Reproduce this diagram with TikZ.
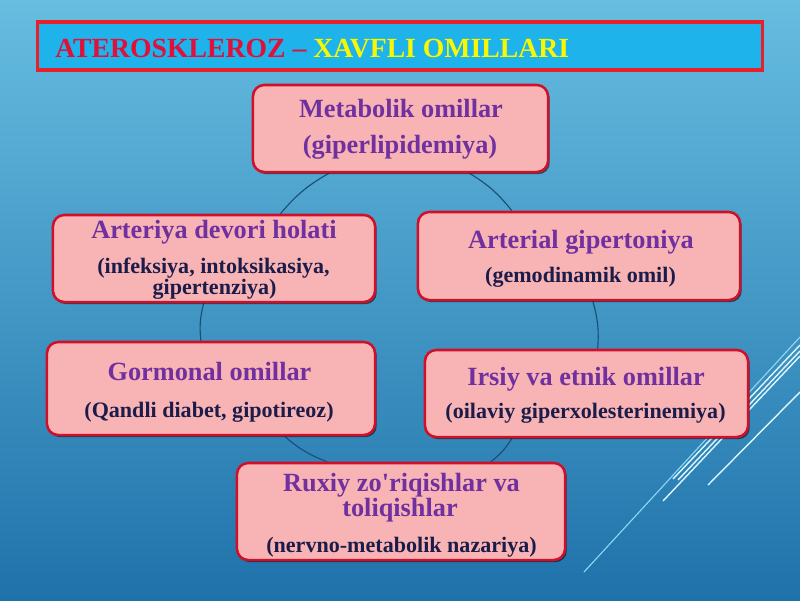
\documentclass[tikz,border=0pt]{standalone}
\usepackage{fontspec}
\setmainfont{Liberation Serif}[Ligatures=TeXOff]
\usetikzlibrary{shadows}
\definecolor{bgtop}{HTML}{66BDE0}
\definecolor{bgbot}{HTML}{1F72AA}
\definecolor{titlefill}{HTML}{1EB3EA}
\definecolor{titlered}{HTML}{E8202A}
\definecolor{titletext}{HTML}{E0103A}
\definecolor{titleyel}{HTML}{F8F800}
\definecolor{boxfill}{HTML}{F8B4B4}
\definecolor{boxline}{HTML}{D0102A}
\definecolor{purp}{HTML}{7030A0}
\definecolor{navy}{HTML}{1C1C4A}
\definecolor{connc}{HTML}{1A4E74}
\definecolor{streak}{HTML}{DDF6FF}
\definecolor{streakb}{HTML}{8AD8F2}
\pgfdeclarelayer{bg}\pgfdeclarelayer{conn}\pgfsetlayers{bg,conn,main}
\tikzset{
 box/.style={draw=boxline, line width=1.8pt, fill=boxfill, rounded corners=8pt, inner sep=0pt,
   drop shadow={shadow xshift=1.2pt, shadow yshift=-1.5pt, opacity=0.55, fill=black}},
 maintxt/.style={anchor=base, inner sep=0pt, text=purp, font=\fontsize{18.7}{22}\selectfont\bfseries},
 subtxt/.style={anchor=base, inner sep=0pt, text=navy, font=\fontsize{15.7}{19}\selectfont\bfseries},
 conn/.style={draw=connc, line width=0.8pt},
 streakline/.style={draw=streak, line width=1pt},
 streakthin/.style={draw=streakb, line width=0.8pt},
 titlebar/.style={draw=titlered, line width=2.2pt, fill=titlefill, inner sep=0pt},
}
\begin{document}
\begin{tikzpicture}[x=0.025cm,y=-0.025cm]
\useasboundingbox (0,0) rectangle (800,600);
\begin{pgfonlayer}{bg}
\shade[top color=bgtop, bottom color=bgbot] (0,0) rectangle (800,600);
\draw[streakthin] (584,572) -- (800,337);
\draw[streakline] (663,501) -- (800,356);
\draw[streakline] (673,479) -- (800,345);
\draw[streakline] (678,480) -- (800,351);
\draw[streakline] (708,485) -- (800,392);
\end{pgfonlayer}

% title
\node[titlebar, minimum width=18.1cm, minimum height=1.2cm] (tb) at (400,46) {};
\node[anchor=base west, inner sep=0pt, font=\fontsize{19.7}{22}\selectfont\bfseries] (tt) at (55,57)
  {\textcolor{titletext}{ATEROSKLEROZ –} \textcolor{titleyel}{XAVFLI OMILLARI}};

% boxes
\node[box, minimum width=7.375cm, minimum height=2.175cm] (b1) at (400.5,128.5) {};
\node[box, minimum width=8.05cm, minimum height=2.175cm] (b2) at (214,258.5) {};
\node[box, minimum width=8.05cm, minimum height=2.2cm] (b3) at (579,256) {};
\node[box, minimum width=8.2cm, minimum height=2.325cm] (b4) at (211,388.5) {};
\node[box, minimum width=8.075cm, minimum height=2.175cm] (b5) at (586.5,393.5) {};
\node[box, minimum width=8.2cm, minimum height=2.425cm] (b6) at (401,511.5) {};

% texts
\node[maintxt] (t1a) at (401,117) {Metabolik omillar};
\node[maintxt] (t1b) at (400,153) {(giperlipidemiya)};
\node[maintxt] (t2a) at (214,238) {Arteriya devori holati};
\node[subtxt] (t2b) at (213.5,273) {(infeksiya, intoksikasiya,};
\node[subtxt] (t2c) at (214.5,294) {gipertenziya)};
\node[maintxt] (t3a) at (581,248) {Arterial gipertoniya};
\node[subtxt] (t3b) at (580.5,282) {(gemodinamik omil)};
\node[maintxt] (t4a) at (209.5,380) {Gormonal omillar};
\node[subtxt] (t4b) at (209,417) {(Qandli diabet, gipotireoz)};
\node[maintxt] (t5a) at (586,385) {Irsiy va etnik omillar};
\node[subtxt] (t5b) at (585.5,418) {(oilaviy giperxolesterinemiya)};
\node[maintxt] (t6a) at (401.5,491) {Ruxiy zo'riqishlar va};
\node[maintxt] (t6b) at (400,516) {toliqishlar};
\node[subtxt] (t6c) at (401.5,552) {(nervno-metabolik nazariya)};

% connectors
\begin{pgfonlayer}{conn}
\draw[conn] (b1.212.8) to[bend right=10] (b2.34.2);
\draw[conn] (b2.257) to[bend right=10] (b4.102.1);
\draw[conn] (b4.327.9) to[bend right=10] (b6.146.4);
\draw[conn] (b6.29.9) to[bend right=10] (b5.211.3);
\draw[conn] (b5.76.4) to[bend right=10] (b3.287.7);
\draw[conn] (b3.146.7) to[bend right=10] (b1.327.2);
\end{pgfonlayer}
\end{tikzpicture}
\end{document}
